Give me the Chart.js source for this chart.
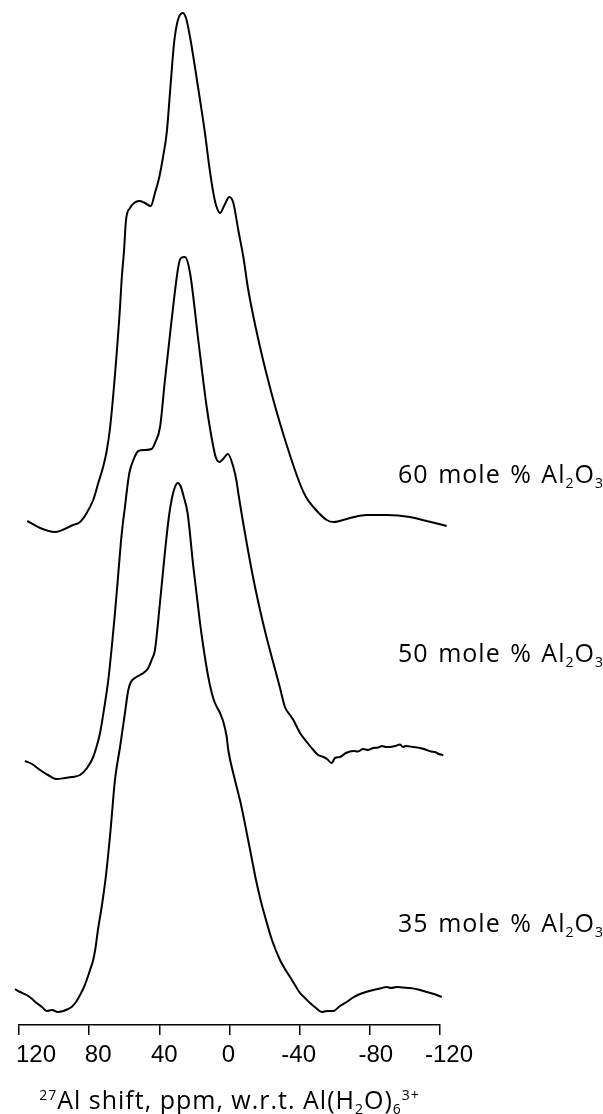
<!DOCTYPE html>
<html>
<head>
<meta charset="utf-8">
<script src="https://cdn.jsdelivr.net/npm/chart.js@4.4.1/dist/chart.umd.min.js"></script>
<style>
    html, body { margin: 0; padding: 0; background: #ffffff; }
    #chartCanvas { display: block; }
</style>
</head>
<body>
<canvas id="chartCanvas" width="603" height="1114"></canvas>
<script>
// Axis ticks (ppm), high field on the right
const tickValues = [120, 80, 40, 0, -40, -80, -120];

// 60 mole % Al2O3 spectrum (shift in ppm, intensity in arbitrary units)
const shift60 = [115.3, 108.0, 99.5, 89.1, 85.2, 81.4, 77.7, 74.8, 71.9, 70.0,
    68.1, 65.3, 62.4, 61.5, 60.1, 59.0, 56.7, 54.4, 51.4, 48.2,
    44.9, 42.5, 40.0, 37.9, 35.8, 33.5, 31.6, 29.4, 26.7, 24.8,
    22.5, 19.7, 16.8, 14.0, 11.5, 9.2, 7.7, 5.4, 3.1, 0.1,
    -2.2, -5.0, -7.9, -10.7, -17.4, -25.0, -32.6, -40.2, -43.6, -47.8,
    -55.4, -59.2, -68.7, -78.2, -89.6, -102.9, -112.4, -123.8];
const signal60 = [0.4, -0.3, -0.7, 0.0, 0.3, 1.2, 2.5, 4.2, 5.9, 7.4,
    9.7, 15.0, 21.8, 24.5, 27.5, 30.5, 31.7, 32.2, 32.4, 32.2,
    31.9, 33.2, 34.8, 36.8, 39.2, 44.2, 48.2, 50.5, 51.2, 50.7,
    48.8, 45.8, 42.5, 39.2, 35.8, 33.2, 32.0, 31.2, 31.9, 32.8,
    32.2, 29.5, 26.8, 23.5, 17.8, 12.5, 8.0, 4.1, 2.8, 1.8,
    0.5, 0.3, 0.7, 1.0, 1.0, 0.8, 0.4, -0.1];

// 50 mole % Al2O3 spectrum
const shift50 = [116.6, 112.6, 108.0, 103.5, 98.5, 93.8, 89.8, 85.2, 81.2, 77.7,
    75.5, 73.8, 71.6, 69.1, 67.0, 65.3, 63.6, 61.9, 60.7, 59.6,
    58.4, 57.1, 54.8, 52.0, 48.2, 44.4, 42.5, 39.6, 36.8, 33.0,
    29.2, 27.7, 25.4, 22.5, 17.8, 13.0, 9.2, 7.7, 5.8, 3.7,
    0.9, -2.2, -4.1, -5.1, -8.8, -13.4, -17.4, -20.8, -25.0, -28.8,
    -31.6, -34.5, -36.4, -40.2, -43.6, -47.8, -50.5, -53.5, -55.6, -58.3,
    -60.1, -63.0, -66.4, -70.6, -73.3, -76.1, -79.0, -82.0, -84.7, -86.9,
    -89.2, -91.5, -94.4, -97.2, -98.9, -100.6, -104.8, -108.6, -112.4, -114.9,
    -117.2, -119.4, -121.9];
const signal50 = [-0.6, -0.9, -1.5, -2.0, -2.4, -2.3, -2.2, -2.0, -1.3, -0.2,
    1.0, 2.2, 4.5, 7.5, 11.0, 14.2, 17.7, 21.3, 23.3, 24.8,
    26.6, 28.2, 29.5, 30.4, 30.5, 30.6, 31.2, 32.8, 37.5, 43.5,
    48.8, 49.7, 49.8, 48.2, 41.5, 34.8, 30.8, 29.7, 29.3, 29.6,
    30.1, 28.8, 27.3, 26.1, 22.2, 17.8, 14.5, 12.0, 9.2, 6.7,
    4.8, 4.0, 3.5, 2.2, 1.4, 0.5, 0.0, -0.2, -0.4, -0.8,
    -0.3, -0.2, 0.2, 0.4, 0.35, 0.6, 0.5, 0.7, 0.75, 0.9,
    0.8, 0.8, 0.9, 1.05, 0.8, 0.9, 0.8, 0.7, 0.5, 0.35,
    0.3, 0.1, 0.0];

// 35 mole % Al2O3 spectrum
const shift35 = [122.3, 119.4, 115.6, 113.2, 109.9, 106.9, 104.2, 101.2, 97.9, 94.8,
    92.6, 90.0, 87.5, 85.2, 83.2, 81.4, 79.5, 77.7, 76.4, 75.0,
    72.7, 70.4, 67.8, 65.3, 62.4, 59.6, 57.7, 56.2, 53.9, 51.0,
    49.1, 46.3, 44.4, 42.5, 39.6, 36.8, 34.5, 32.8, 31.1, 29.5,
    27.7, 26.2, 23.9, 20.6, 16.8, 14.9, 12.1, 10.1, 8.3, 5.4,
    3.5, 1.6, 0.7, -3.1, -6.6, -9.4, -12.3, -15.1, -18.0, -20.8,
    -24.2, -28.8, -31.6, -34.5, -37.3, -40.2, -43.0, -45.9, -49.3, -52.6,
    -55.6, -59.2, -63.0, -66.8, -70.4, -74.4, -77.8, -82.0, -85.8, -89.6,
    -92.1, -95.3, -98.9, -102.9, -107.5, -112.4, -116.6, -121.0];
const signal35 = [1.6, 1.3, 1.0, 0.7, 0.2, -0.2, -0.6, -0.5, -0.7, -0.6,
    -0.45, -0.2, 0.3, 1.0, 1.7, 2.5, 3.5, 4.5, 5.7, 7.5,
    10.0, 13.0, 17.5, 22.5, 25.8, 29.2, 31.5, 32.3, 32.7, 33.0,
    33.2, 33.7, 34.5, 35.5, 40.3, 45.3, 48.9, 50.7, 51.8, 52.2,
    51.8, 50.9, 49.2, 43.8, 38.2, 35.8, 32.8, 31.2, 30.2, 29.2,
    28.3, 26.8, 25.5, 22.5, 20.0, 17.6, 15.0, 12.5, 10.3, 8.5,
    6.5, 4.5, 3.6, 2.8, 2.0, 1.2, 0.7, 0.2, -0.3, -0.7,
    -0.6, -0.6, -0.1, 0.3, 0.75, 1.1, 1.3, 1.5, 1.65, 1.8,
    1.7, 1.8, 1.75, 1.7, 1.55, 1.3, 1.1, 0.8];

// Vertical stacking offset of each trace
const stackOffsets = [50, 27, 2];

// Composition labels, [text, 'sub' | 'sup' | ''] runs
const compositionLabels = [
    [['60 mole % Al', ''], ['2', 'sub'], ['O', ''], ['3', 'sub']],
    [['50 mole % Al', ''], ['2', 'sub'], ['O', ''], ['3', 'sub']],
    [['35 mole % Al', ''], ['2', 'sub'], ['O', ''], ['3', 'sub']]
];
const axisTitle = [['27', 'sup'], ['Al shift, ppm, w.r.t. Al(H', ''], ['2', 'sub'], ['O)', ''], ['6', 'sub'], ['3+', 'sup']];

// Layout / style settings (kept apart from the data)
const labelAnchorPpm = -96.1;
const labelAnchorY = [54.2, 36.3, 9.3];
const tickLabelShift = { '120': 17, '80': 9, '40': 5, '0': -1, '-40': -1, '-80': 6, '-120': 9 };
const tickFont = '24px "Liberation Sans", Arial, sans-serif';
const textFamily = '"Open Sans", "Noto Sans", sans-serif';

// Draw a string made of normal / subscript / superscript runs
function drawRuns(ctx, runs, x, y, size, align, spacing) {
    try {
        ctx.letterSpacing = spacing.letter + 'px';
        ctx.wordSpacing = spacing.word + 'px';
        const pieces = runs.map(([txt, kind]) => {
            const s = kind ? Math.round(size * 0.58) : size;
            ctx.font = `${s}px ${textFamily}`;
            return { txt, kind, s, w: ctx.measureText(txt).width };
        });
        const total = pieces.reduce((a, p) => a + p.w, 0);
        let cx = align === 'center' ? x - total / 2 : x;
        ctx.textAlign = 'left';
        ctx.textBaseline = 'alphabetic';
        pieces.forEach(p => {
            ctx.font = `${p.s}px ${textFamily}`;
            let dy = 0;
            if (p.kind === 'sub') dy = size * 0.2;
            if (p.kind === 'sup') dy = -size * 0.36;
            ctx.fillText(p.txt, cx, y + dy);
            cx += p.w;
        });
    } catch (e) {
        console.error(e);
    }
}

// Plugin: tick labels, composition labels and the axis title
const spectrumText = {
    id: 'spectrumText',
    afterDraw(chart) {
        const ctx = chart.ctx;
        const xs = chart.scales.x;
        const ys = chart.scales.y;
        ctx.save();
        ctx.fillStyle = '#000';

        ctx.font = tickFont;
        ctx.textAlign = 'center';
        ctx.textBaseline = 'alphabetic';
        xs.ticks.forEach(t => {
            const px = xs.getPixelForValue(t.value) + (tickLabelShift[String(t.value)] || 0);
            ctx.fillText(String(t.value), px, xs.top + 37);
        });

        compositionLabels.forEach((runs, i) => {
            drawRuns(ctx, runs, xs.getPixelForValue(labelAnchorPpm), ys.getPixelForValue(labelAnchorY[i]), 25, 'left', { letter: 1, word: 2 });
        });

        drawRuns(ctx, axisTitle, xs.getPixelForValue(0), xs.top + 84, 25, 'center', { letter: 1, word: 0 });
        ctx.restore();
    }
};

function buildSeries(shifts, signals, offset) {
    return shifts.map((s, i) => ({ x: s, y: signals[i] + offset }));
}

const seriesData = [
    buildSeries(shift60, signal60, stackOffsets[0]),
    buildSeries(shift50, signal50, stackOffsets[1]),
    buildSeries(shift35, signal35, stackOffsets[2])
];

const ctx = document.getElementById('chartCanvas').getContext('2d');
const chart = new Chart(ctx, {
    type: 'line',
    data: {
        datasets: seriesData.map((d, i) => ({
            label: compositionLabels[i].map(r => r[0]).join(''),
            data: d,
            borderColor: '#000',
            borderWidth: 2,
            pointRadius: 0,
            fill: false,
            tension: 0.4,
            cubicInterpolationMode: 'monotone',
            clip: false
        }))
    },
    options: {
        responsive: false,
        animation: false,
        devicePixelRatio: 1,
        layout: { padding: { left: 19, right: 163, top: 0, bottom: 0 } },
        plugins: {
            legend: { display: false },
            tooltip: { enabled: false },
            title: { display: false }
        },
        scales: {
            x: {
                type: 'linear',
                reverse: true,
                min: -120,
                max: 120,
                afterBuildTicks: scale => { scale.ticks = tickValues.map(v => ({ value: v })); },
                afterFit: scale => { scale.height = 89; },
                ticks: { display: false },
                grid: {
                    display: true,
                    drawOnChartArea: false,
                    drawTicks: true,
                    tickLength: 10,
                    color: '#000',
                    lineWidth: 1.5
                },
                border: { display: true, color: '#000', width: 1.5 }
            },
            y: {
                type: 'linear',
                display: false,
                min: 0,
                max: 102.5
            }
        }
    },
    plugins: [spectrumText]
});
</script>
</body>
</html>
